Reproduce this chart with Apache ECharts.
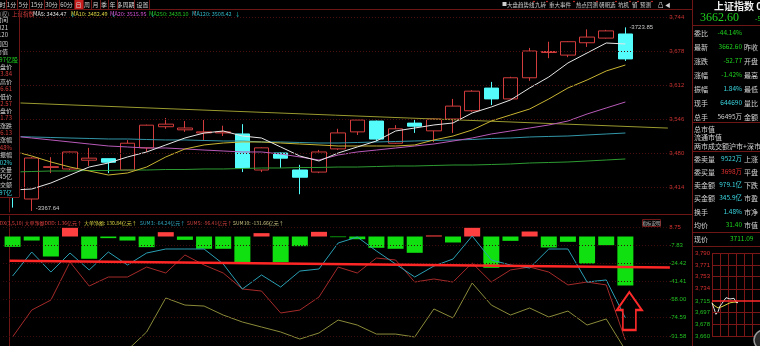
<!DOCTYPE html>
<html><head><meta charset="utf-8">
<script src="https://cdn.jsdelivr.net/npm/echarts@6/dist/echarts.min.js"></script>
<style>html,body{margin:0;padding:0;background:#000;overflow:hidden}#c{width:760px;height:346px}</style>
</head><body><div id="c"></div>
<script>
// ---------- data ----------
const days = ['d01','d02','d03','d04','d05','d06','d07','d08','d09','d10','d11','d12','d13','d14','d15','d16','d17','d18','d19','d20','d21','d22','d23','d24','d25','d26','d27','d28','d29','d30','d31','d32','d33',' ','  '];
// [open, close, low, high]
const candles = [
 [3440,3400,3374,3445],[3390.7,3470.3,3367.64,3472],[3452,3453.5,3441,3472],[3449,3482,3447,3483],
 [3466,3470,3455,3490],[3469,3462,3441,3469],[3447,3499,3446,3505],[3490,3534,3482,3535],
 [3531,3536,3527,3548],[3525,3528.5,3521,3542],[3519,3521,3505,3544],[3519,3521,3513,3533],
 [3517,3451,3443,3536],[3447,3490,3443,3491],[3480,3470,3451,3481],[3447,3433,3400,3457],
 [3443,3482,3441,3486],[3488,3519,3486,3527],[3521,3544,3515,3546],[3542,3507,3503,3543],
 [3499,3527,3498,3534],[3538,3532,3519,3544],[3523,3546,3501,3547],[3546,3571,3519,3585],
 [3562,3600,3560,3602],[3606,3585,3573,3618],[3585,3626,3584,3628],[3626,3678,3620,3684],
 [3675,3677,3664,3696],[3670,3696,3666,3697],[3694,3705,3686,3720],[3703,3717,3702,3719],
 [3711,3662.6,3658.6,3723.85]
];
const ma5 = [3408.2,3410.1,3421.8,3437.3,3452.8,3460.6,3472.3,3482.0,3495.6,3509.1,3518.8,3522.7,3513.0,3509.1,3491.7,3474.2,3464.5,3480.0,3491.7,3503.3,3522.7,3528.5,3534.4,3538.3,3557.7,3569.3,3582.9,3606.2,3627.5,3654.7,3674.1,3693.5,3691.6];
const ma10 = [3483.9,3474.2,3462.6,3452.8,3445.1,3437.3,3441.2,3452.8,3472.3,3487.8,3495.6,3499.4,3501.4,3501.4,3499.4,3497.5,3495.6,3493.6,3493.6,3493.6,3493.6,3495.6,3505.3,3513.0,3524.7,3542.1,3553.8,3565.4,3584.8,3606.2,3621.7,3639.2,3650.8];
const ma20 = [3513.0,3509.1,3505.3,3501.4,3497.5,3493.6,3491.7,3489.7,3489.7,3487.8,3485.8,3483.9,3482.0,3482.0,3478.1,3472.3,3466.4,3476.1,3482.0,3485.8,3489.7,3493.6,3497.5,3503.3,3509.1,3516.9,3522.7,3528.5,3534.4,3542.1,3555.7,3567.4,3579.0];
const ma120 = [3512.1,3511.1,3510.1,3509.1,3508.2,3507.2,3507.2,3506.2,3505.3,3505.3,3504.3,3503.3,3503.3,3501.4,3501.4,3500.4,3499.4,3499.4,3500.4,3501.4,3502.3,3503.3,3504.3,3505.3,3506.2,3508.2,3509.1,3511.1,3512.1,3513.0,3515.0,3516.9,3518.8];
const ma250 = [3443.1,3444.1,3445.1,3445.1,3446.1,3446.1,3447.0,3447.0,3448.0,3448.0,3449.0,3449.0,3449.9,3450.9,3450.9,3451.9,3451.9,3452.8,3452.8,3453.8,3454.8,3454.8,3455.8,3456.7,3456.7,3457.7,3458.7,3460.6,3461.6,3462.6,3464.5,3466.4,3468.4];
const trendLine = [[0,3578.4],[0.992,3528.4]];
const priceTicks = [3744,3678,3612,3546,3480,3414];

const ddd = [-9.5,-3.7,-18.4,8.0,-20.5,-1.5,-3.7,-9.8,4.0,-3.1,-11.3,-11.3,-24.2,3.1,-23.6,-8.9,4.3,-0.6,-2.5,-10.4,-11.3,-15.0,1.0,-5.5,8.0,-28.8,-4.0,4.6,-10.1,-4.9,-24.9,-8.0,-45.1];
const sum3 = [-36.4,-14.3,-32.7,-15.2,-30.8,-14.3,-26.2,-15.2,-11.5,-11.5,-11.5,-25.3,-48.3,-35.4,-46.5,-31.8,-29.9,-6.0,-0.5,-13.3,-25.3,-37.3,-27.2,-20.7,0.5,-21.6,-26.2,-29.0,-11.5,-11.5,-41.9,-40.0,-75.0];
const sum5 = [-92.5,-67.7,-58.5,-23.5,-45.6,-37.3,-37.3,-28.1,-33.6,-17.0,-26.2,-33.6,-48.3,-50.2,-70.4,-67.7,-55.7,-28.1,-33.6,-19.8,-21.6,-41.9,-39.1,-41.9,-24.4,-41.9,-30.8,-28.1,-32.7,-44.6,-41.9,-44.6,-95.3];
const sum10 = [-150,-145,-140,-135,-130,-120,-104.5,-87.9,-56.6,-63.1,-64.0,-72.3,-78.7,-83.3,-87.9,-94.4,-88.8,-76.9,-81.5,-89.8,-89.8,-92.5,-66.7,-75.0,-42.8,-63.1,-72.3,-65.8,-74.1,-68.6,-81.5,-75.9,-104.5];
const ddxTicks = [8.75,-7.83,-24.42,-41.41,-58.00,-74.59,-91.58];
const redMarkLine = [[0.01,-22.3],[0.995,-28.5]];
const arrowAt = [32,-68.6];

const intraday = [3712,3703,3694,3698,3707,3711,3713,3720,3722,3718,3716,3719,3713,3712];
const intradayAvg = [3712,3708,3705,3704,3705,3706,3707,3709,3711,3712,3713,3713,3713,3713];
const miniTicks = [3790,3771,3753,3734,3715,3697,3678,3660];

// ---------- colours ----------
const RED='#d23c3c', CY='#54fcfc', TXT='#d2d2d2', GRN='#1ed21e', CYT='#3ad6e0', SEP='#6e1515', FONT='"Noto Sans CJK SC"';

// ---------- graphic helpers ----------
const G = [];
function txt(x,y,s,color,size,align,weight,family){
  G.push({type:'text',z:100,style:{x:x,y:y,text:s,fill:color,
    font:(weight||'normal')+' '+size+'px '+(family||FONT),
    textAlign:align||'left',align:align||'left',textVerticalAlign:'middle',verticalAlign:'middle'}});
}
function ln(x1,y1,x2,y2,c,w,z){G.push({type:'line',z:z||100,shape:{x1,y1,x2,y2},style:{stroke:c,lineWidth:w||1}});}
function rc(x,y,w,h,fill,stroke,z){G.push({type:'rect',z:z||90,shape:{x,y,width:w,height:h},style:{fill:fill||'none',stroke:stroke||'none',lineWidth:1}});}

// top toolbar
rc(74,0,9,9,'#c81e1e');
const tb=[['分时',5.5,'right'],['1分',11.5],['5分',23.5],['15分',37],['30分',51.5],['60分',66.5],['日',78.5],['周',87],['月',95.5],['季',104],['年',112.5],['多周期',125.5],['设置',142.5]];
tb.forEach(t=>txt(t[1],4.5,t[0],TXT,6,t[2]||'center'));
[6,17,29,44,59,74,83,91,100,108,117,134,149].forEach(x=>ln(x+0.5,0,x+0.5,9,SEP,1));
ln(0,9.5,692,9.5,SEP,1);
// right toolbar
rc(502.5,2,4,4,'#d0d0d0');
[['大盘趋势线',507],['九转',535],['重大事件',549],['热点回测',576],['朝朝选',599],['坑机',618],['留',632],['预测',640],['凸',658],['◀',665]].forEach(t=>txt(t[1],4.5,t[0],TXT,5.5,'left'));
[534,547,574,597,616,630,638,652].forEach(x=>G.push({type:'circle',z:100,shape:{cx:x,cy:1.5,r:0.8},style:{fill:'#ff3030'}}));
// legend row
txt(9,13.5,'(权)','#9a9a9a',5.5,'right');
txt(12,13.5,'上证指数',RED,5.5);
[['MA5: 3434.47','#e0e0e0',33,'↓','#20c8c8'],['MA10: 3482.49','#d8d040',71,'↓','#20c8c8'],['MA20: 3515.95','#d050d0',110,'↓','#20c8c8'],['MA250: 3438.10','#22c022',149,'↑','#e03030'],['MA120: 3508.42','#30b8c8',192,'↓','#20c8c8']]
 .forEach(l=>{txt(l[2],13.5,l[0],l[1],5.5);txt(l[2]+37+(l[0].length-12)*3,13.5,l[3],l[4],5.5);});

// left info panel
rc(0,16,20.5,181,'#000','none',95);
ln(19.5,9,19.5,197,SEP,1);
ln(0,197.5,19.5,197.5,SEP,1);
rc(13.5,17.5,5,4,'none',SEP);rc(13.5,22.5,5,4,'none',SEP);
const leftRows=[['时间',TXT,20,8],['2021',TXT,28,8],['0120',TXT,35,8],['周四',TXT,44,8],['市值',TXT,52,8],['4297亿股',GRN,60,18],
 ['开盘价',TXT,67,12],['3473.84',RED,74,12],['最高价',TXT,82,12],['3486.61',RED,89,12],['最低价',TXT,97,12],['3442.57',RED,104,12],
 ['收盘价',TXT,111,12],['3481.73',RED,118,12],['涨跌',TXT,126,12],['16.13',RED,133,12],['涨幅',TXT,140,12],['0.48%',RED,148,12],
 ['振幅',TXT,155,12],['1.02%',CYT,163,12],['成交量',TXT,170,12],['3.45亿',TXT,177,12],['成交额',TXT,185,12],['4297亿',CYT,193,12]];
leftRows.forEach(r=>txt(r[3],r[2],r[0],r[1],6,'right'));

// lower panel title
txt(82,223.5,'DDX(3,5,10) 大单净额DDD: 1.36亿元↑','#e04040',5,'right');
txt(84,223.5,'大单净额: 130.84亿元↑','#d8d040',5);
txt(140,223.5,'SUM3: -64.24亿元↑','#30a8c0',5);
txt(187,223.5,'SUM5: -96.41亿元↑','#d04040',5);
txt(233,223.5,'SUM10: -131.66亿元↑','#c8c080',5);
rc(642.5,219.5,18,7,'#000',SEP,100);
txt(651.5,223,'指标说明',TXT,4.5,'center');
ln(0,214.5,692,214.5,SEP,1);

// right panel
ln(692.5,0,692.5,346,SEP,1);
txt(714,6,'上证指数 000001','#f0f0f0',10,'left','bold');
txt(700,18,'3662.60',GRN,12,'left','normal','"Liberation Serif"');
txt(755,18,'-52.77',GRN,7);
ln(692,25.5,760,25.5,SEP,1);
const rp=[['委比','-44.14%',GRN,33,''],['最新','3662.60',GRN,47,'昨收'],['涨跌','-52.77',GRN,61,'开盘'],['涨幅','-1.42%',GRN,75,'最高'],
 ['振幅','1.84%',CYT,89,'最低'],['现手','644690',CYT,103,'量比'],['总手','56495万',TXT,117,'金额']];
rp.forEach(r=>{txt(694,r[3],r[0],TXT,7);txt(742,r[3],r[1],r[2],6.5,'right');if(r[4])txt(744,r[3],r[4],TXT,7);});
ln(692,122.5,760,122.5,SEP,1);
txt(694,129,'总市值',TXT,7);txt(694,137,'流通市值',TXT,7);txt(694,146,'两市成交额沪市+深市',TXT,7);
ln(692,151.5,760,151.5,SEP,1);
const rp2=[['委卖量','9522万',CYT,159,'上涨'],['委买量','3698万','#e03030',172,'平盘'],['卖金额','979.1亿',CYT,185,'下跌'],
 ['买金额','345.9亿',CYT,198,'市盈'],['换手','1.48%',CYT,212,'市净'],['均价','31.40',GRN,225,'市值']];
rp2.forEach(r=>{txt(694,r[3],r[0],TXT,7);txt(742,r[3],r[1],r[2],6.5,'right');txt(744,r[3],r[4],TXT,7);});
ln(692,232.5,760,232.5,SEP,1);
txt(694,239,'现价',TXT,7);txt(730,239,'3711.09',GRN,6.5);
ln(692,246.5,760,246.5,SEP,1);
G.push({type:'circle',z:100,shape:{cx:764,cy:340,r:10},style:{fill:'#2a2a2a',stroke:'#9a9a9a',lineWidth:1.5}});

// ---------- chart ----------
const chart = echarts.init(document.getElementById('c'),null,{renderer:'canvas'});
const lineS=(data,color,xi,yi,w)=>({type:'line',xAxisIndex:xi,yAxisIndex:yi,data:data,symbol:'none',silent:true,
  lineStyle:{color:color,width:w||1},emphasis:{disabled:true}});
chart.setOption({
  backgroundColor:'#000',animation:false,
  grid:[{left:3,top:16,width:670.25,height:196},{left:3,top:216,width:670.25,height:130},{left:712,top:253,width:90,height:83}],
  xAxis:[
    {type:'category',gridIndex:0,data:days,show:false},
    {type:'value',gridIndex:0,min:0,max:1,show:false},
    {type:'category',gridIndex:1,data:days,show:false},
    {type:'value',gridIndex:1,min:0,max:1,show:false},
    {type:'value',gridIndex:2,min:0,max:24,interval:4,axisLine:{show:false},axisTick:{show:false},axisLabel:{show:false},
     splitLine:{show:true,lineStyle:{color:'#7a1616',width:1}}}
  ],
  yAxis:[
    {type:'value',gridIndex:0,min:3365.5,max:3745.9,position:'right',offset:-6,
     axisLine:{show:true,lineStyle:{color:SEP}},axisTick:{show:false},splitLine:{show:false},
     axisLabel:{customValues:priceTicks,color:'#c83232',fontSize:6,margin:2,fontFamily:'Liberation Sans'}},
    {type:'value',gridIndex:1,min:-100.79,max:18.88,position:'right',offset:-6,
     axisLine:{show:true,lineStyle:{color:SEP}},axisTick:{show:false},splitLine:{show:false},
     axisLabel:{customValues:ddxTicks,color:v=>v>0?'#d83030':'#22c022',formatter:v=>v.toFixed(2),fontSize:6,margin:2,fontFamily:'Liberation Sans'}},
    {type:'value',gridIndex:2,min:3660,max:3790,position:'left',
     axisLine:{show:false},axisTick:{show:false},splitLine:{show:false},
     axisLabel:{customValues:miniTicks,color:v=>v>3715?'#d83030':(v===3715?'#d0d0d0':'#22c022'),fontSize:6,margin:2,fontFamily:'Liberation Sans'}}
  ],
  series:[
    {type:'candlestick',xAxisIndex:0,yAxisIndex:0,data:candles,barWidth:15,silent:true,
     itemStyle:{color:'rgba(0,0,0,0)',color0:CY,borderColor:RED,borderColor0:CY,borderWidth:1},
     markLine:{silent:true,symbol:'none',label:{show:false},lineStyle:{color:'#4a1010',type:[1,2],width:1},
       data:priceTicks.map(v=>({yAxis:v}))},
     markPoint:{symbol:'circle',symbolSize:0,silent:true,
       label:{show:true,position:'right',distance:4,color:'#c8c8c8',fontSize:6,fontFamily:'Liberation Sans',formatter:p=>'-'+p.value.toFixed(2)},
       data:[{type:'max',valueDim:'highest'},{type:'min',valueDim:'lowest',label:{offset:[0,-3]}}]}},
    lineS(trendLine,'#9a9a30',1,0),
    lineS(ma250,'#2d9a32',0,0),
    lineS(ma120,'#3296a8',0,0),
    lineS(ma20,'#b85ab8',0,0),
    lineS(ma10,'#c8b432',0,0),
    lineS(ma5,'#e6e6e6',0,0),
    {type:'bar',xAxisIndex:2,yAxisIndex:1,data:ddd,barWidth:16,silent:true,
     itemStyle:{color:p=>p.value>=0?'#ff4040':'#10e010'},
     markLine:{silent:true,symbol:'none',label:{show:false},lineStyle:{color:'#3a0c0c',type:[1,2],width:1},
       data:ddxTicks.map(v=>({yAxis:v}))},
     markPoint:{silent:true,symbol:'path://M12.5,0 L25,18 L19,18 L19,38 L6,38 L6,18 L0,18 Z',symbolSize:[25,38],symbolOffset:[4,0],
       itemStyle:{color:'rgba(0,0,0,0)',borderColor:'#ff2a2a',borderWidth:2},label:{show:false},
       data:[{coord:arrowAt}]}},
    lineS(sum10,'#8a8a3a',2,1),
    lineS(sum5,'#a52a2a',2,1),
    lineS(sum3,'#2a9fb4',2,1),
    Object.assign(lineS(redMarkLine,'#ff2626',3,1,2.5),{z:10}),
    Object.assign(lineS(intradayAvg.map((v,i)=>[i,v]),'#d8d040',4,2),{markLine:{silent:true,symbol:'none',label:{show:false},
       data:miniTicks.map(v=>({yAxis:v,lineStyle:{color:v===3715?'#ff2a2a':'#7a1616',width:v===3715?1.5:1,type:'solid'}}))}}),
    lineS(intraday.map((v,i)=>[i,v]),'#e8e8e8',4,2)
  ],
  graphic:G
});
</script></body></html>
